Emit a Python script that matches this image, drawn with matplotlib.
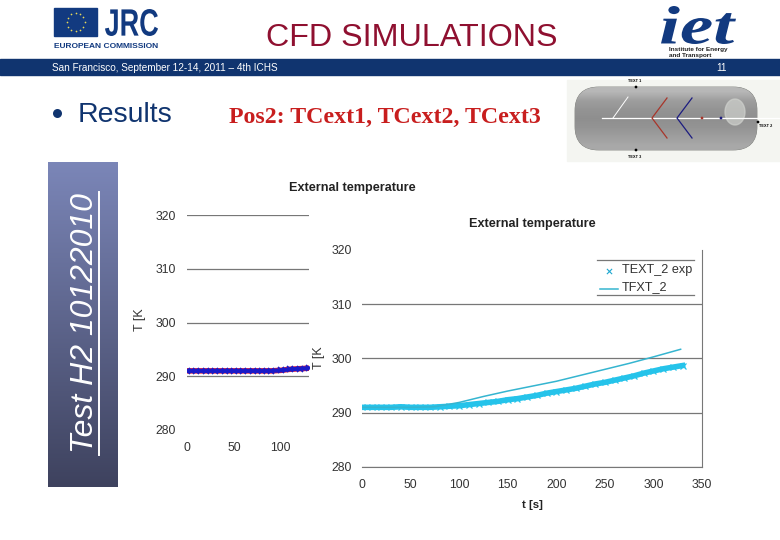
import matplotlib
matplotlib.use("Agg")
import matplotlib.pyplot as plt
import numpy as np
from matplotlib.patches import Rectangle, FancyBboxPatch, Ellipse, PathPatch
from matplotlib.textpath import TextPath
from matplotlib.font_manager import FontProperties
from matplotlib.transforms import Affine2D

W = 780
H = 540

#values
t_exp = [0, 10, 20, 30, 40, 50, 60, 70, 80, 90, 100, 110, 120, 130, 140, 150, 160,
         170, 180, 190, 200, 210, 220, 230, 240, 250, 260, 270, 280, 290, 300, 310, 320, 330]
T_exp = [291.0, 291.0, 291.0, 291.0, 291.1, 291.0, 291.0, 291.0, 291.1, 291.2, 291.3, 291.5, 291.7, 291.9,
         292.1, 292.4, 292.6, 292.9, 293.2, 293.6, 293.9, 294.2, 294.5, 294.9, 295.3, 295.6, 296.0,
         296.4, 296.8, 297.3, 297.7, 298.1, 298.4, 298.7]
t_cfd = [0, 25, 50, 75, 100, 125, 150, 175, 200, 225, 250, 275, 300, 328]
T_cfd = [291.0, 291.0, 291.0, 291.1, 291.9, 293.0, 294.0, 294.9, 295.8, 296.9, 298.0, 299.1, 300.3, 301.7]
t_left = [0, 10, 20, 30, 40, 50, 60, 70, 80, 90, 100, 110, 120, 130]
T_left = [291.0, 291.0, 291.0, 291.0, 291.0, 291.0, 291.0, 291.0, 291.0, 291.0, 291.1, 291.3, 291.4, 291.5]
xticks_main = [0, 50, 100, 150, 200, 250, 300, 350]
xticks_left = [0, 50, 100]
yticks = [280, 290, 300, 310, 320]

NAVY = "#10346f"
DARK = "#333333"
SANS = "Liberation Sans"
CYAN = "#25c3ea"

fig = plt.figure(figsize=(W / 100, H / 100), dpi=100, facecolor="white")
bg = fig.add_axes([0, 0, 1, 1])
bg.axis("off")


def fit_text(s, x0, x1, y0, y1, color, prop):
    # text stretched into a box, for the two logos
    tp = TextPath((0, 0), s, size=10, prop=prop)
    box = tp.get_extents()
    tf = Affine2D().translate(-box.x0, -box.y0).scale((x1 - x0) / box.width, -(y1 - y0) / box.height).translate(x0, y1)
    bg.add_patch(PathPatch(tp, transform=tf + bg.transData, facecolor=color, edgecolor="none"))


# side band with gradient
grad = np.linspace(0, 1, 256).reshape(-1, 1)
c_top = np.array([0x7b, 0x86, 0xb8]) / 255
c_bot = np.array([0x3e, 0x42, 0x5e]) / 255
img = c_top + (c_bot - c_top) * grad[:, :, None]
bg.imshow(img, extent=(48, 118, 487, 162), aspect="auto", zorder=1)

# tank picture
bg.add_patch(Rectangle((567, 80), 213, 81, color="#f4f5f1", zorder=0.5))
tank = FancyBboxPatch((575, 87), 182, 63, boxstyle="round,pad=0,rounding_size=24",
                      facecolor="#9a9c98", edgecolor="#80827e", linewidth=0.6, zorder=1)
bg.add_patch(tank)
g2 = np.array([0.72, 0.62, 0.58, 0.56, 0.58, 0.62, 0.66]).reshape(-1, 1, 1) * np.ones((7, 1, 3))
tank_img = bg.imshow(g2, extent=(575, 757, 150, 87), aspect="auto", zorder=1.1, interpolation="bilinear")
tank_img.set_clip_path(tank)
bg.add_patch(Ellipse((735, 112), 20, 26, color="#cfd1cd", alpha=0.7, zorder=1.2))
bg.plot([602, 780], [118, 118], color="white", lw=0.9, zorder=1.3)
bg.plot([613, 628], [118, 97], color="white", lw=0.7, zorder=1.3)
bg.plot([667, 652, 667], [98, 118, 138], color="#a8352a", lw=0.9, zorder=1.3)
bg.plot([692, 677, 692], [98, 118, 138], color="#1c1c80", lw=0.9, zorder=1.3)
bg.scatter([702, 721, 636, 636, 758], [118, 118, 87, 150, 122], s=4,
           color=["#a8352a", "#1c1c80", "black", "black", "black"], linewidths=0, zorder=1.4)
bg.text(635, 81, "TEXT 1", fontsize=2.8, family=SANS, weight="bold", ha="center", va="center")
bg.text(635, 157, "TEXT 3", fontsize=2.8, family=SANS, weight="bold", ha="center", va="center")
bg.text(766, 126, "TEXT 2", fontsize=2.8, family=SANS, weight="bold", ha="center", va="center")

bg.set_xlim(0, W)
bg.set_ylim(H, 0)

# header band and titles
bg.add_patch(Rectangle((0, 59), W, 16, color=NAVY))
bg.text(52, 68, "San Francisco, September 12-14, 2011 – 4th ICHS", color="white", fontsize=7.2,
        family=SANS, va="center")
bg.text(722, 68, "11", color="white", fontsize=7.2, family=SANS, va="center", ha="center")
bg.text(412, 38, "CFD SIMULATIONS", color="#8f1030", fontsize=23.2, family=SANS, va="center", ha="center")
bg.scatter([57], [113], s=42, color=NAVY, linewidths=0)
bg.text(78, 115, "Results", color=NAVY, fontsize=20.5, family=SANS, va="center")
bg.text(229, 117, "Pos2: TCext1, TCext2, TCext3", color="#c81e1e", fontsize=17.2,
        family="Liberation Serif", weight="bold", va="center")

# JRC logo
bg.add_patch(Rectangle((54, 8), 43, 28, color="#123a80"))
star_a = np.arange(12) * np.pi / 6
bg.scatter(75.5 + 9 * np.cos(star_a), 22 + 9 * np.sin(star_a), s=1.5, color="#e8d85a", linewidths=0)
fit_text("JRC", 105, 158, 9, 36, "#123a80", FontProperties(family=SANS, weight="bold"))
bg.text(54, 47, "EUROPEAN COMMISSION", color="#123a80", fontsize=6, family=SANS, weight="bold", va="center")

# IET logo
fit_text("iet", 661, 736, 6, 44, "#123a80", FontProperties(family="Liberation Serif", style="italic", weight="bold"))
bg.text(669, 49.5, "Institute for Energy", color="#222222", fontsize=4.6, family=SANS, weight="bold", va="center")
bg.text(669, 55.5, "and Transport", color="#222222", fontsize=4.6, family=SANS, weight="bold", va="center")

bg.text(85, 323, "Test H2 10122010", color="white", fontsize=23, family=SANS, style="italic",
        rotation=90, va="center", ha="center", zorder=2)
bg.plot([98.5, 98.5], [192, 455], color="white", lw=1.4, zorder=2)


def chart_axes(x0, x1, ytop, ybot, xmax, ypad):
    ax = fig.add_axes([x0 / W, 1 - ybot / H, (x1 - x0) / W, (ybot - ytop) / H])
    ax.set_xlim(0, xmax)
    ax.set_ylim(280, 320)
    ax.patch.set_alpha(0)
    ax.set_yticks(yticks)
    ax.set_xticks(xticks_main if xmax == 350 else xticks_left)
    ax.grid(axis="y", color="#777777", lw=0.9)
    ax.set_axisbelow(True)
    for s in ["top", "left"]:
        ax.spines[s].set_visible(False)
    ax.spines["bottom"].set_color("#777777")
    ax.tick_params(axis="y", length=0, labelsize=8.8, labelcolor=DARK, pad=ypad)
    ax.tick_params(axis="x", length=0, labelsize=8.8, labelcolor=DARK, pad=8.5)
    for lab in ax.get_xticklabels() + ax.get_yticklabels():
        lab.set_family(SANS)
    return ax


# chart behind, cut off by the front one
back = chart_axes(187, 309, 215, 430, 130, 8)
back.spines["right"].set_visible(False)
back.spines["bottom"].set_visible(False)
back.get_ygridlines()[0].set_visible(False)
back.plot(t_left, T_left, color="#e0203a", lw=4, zorder=3)
back.plot(t_left, T_left, color="#1a1ac8", lw=3, marker="x", ms=4, mew=1.2, zorder=4)
bg.text(352, 188, "External temperature", fontsize=9.1, family=SANS, weight="bold", color="#222222",
        ha="center", va="center")
bg.text(140, 320, "T [K", fontsize=9, family=SANS, color=DARK, rotation=90, ha="center", va="center")

# front chart
front = chart_axes(362, 702, 250, 467, 350, 7)
front.spines["right"].set_color("#777777")
front.get_ygridlines()[-1].set_visible(False)
h_exp, = front.plot(t_exp, T_exp, color=CYAN, lw=4, marker="x", ms=5, mew=0.9, zorder=3, label="TEXT_2 exp")
h_cfd, = front.plot(t_cfd, T_cfd, color="#35b5d0", lw=1.1, zorder=4, label="TFXT_2")
bg.text(532, 224, "External temperature", fontsize=9.1, family=SANS, weight="bold", color="#222222",
        ha="center", va="center")
bg.text(532, 505, "t [s]", fontsize=8.2, family=SANS, weight="bold", color="#222222", ha="center", va="center")
bg.text(319, 358, "T [K", fontsize=9, family=SANS, color=DARK, rotation=90, ha="center", va="center")

# legend drawn by hand so that only top and bottom rules show
bg.plot([597, 694], [260, 260], color="#777777", lw=0.9, zorder=5)
bg.plot([597, 694], [295, 295], color="#777777", lw=0.9, zorder=5)
bg.scatter([609], [271], marker="x", s=14, color="#20a8d0", linewidths=0.8, zorder=6)
bg.plot([600, 618], [289, 289], color="#35b5d0", lw=1.1, zorder=6)
bg.text(622, 270, "TEXT_2 exp", fontsize=9.1, family=SANS, color=DARK, va="center", zorder=6)
bg.text(622, 287, "TFXT_2", fontsize=9.1, family=SANS, color=DARK, va="center", zorder=6)
bg.set_zorder(0)

fig.savefig("out.png", dpi=100)
